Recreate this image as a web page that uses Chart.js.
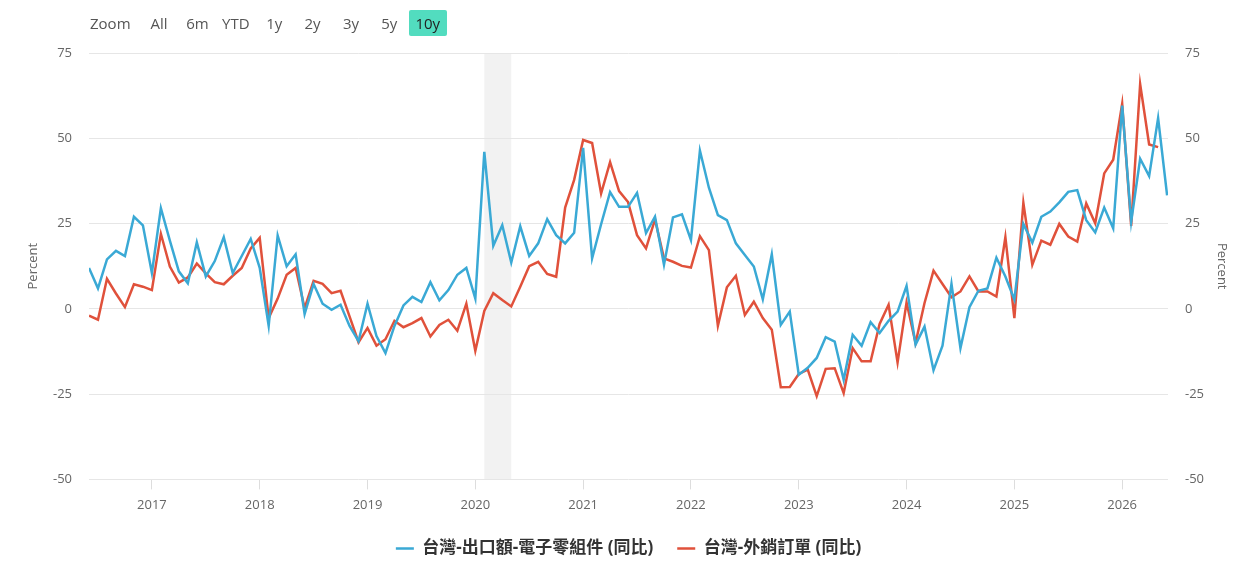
<!DOCTYPE html>
<html>
<head>
<meta charset="utf-8">
<title>台灣 出口額 電子零組件 vs 外銷訂單</title>
<script src="https://cdn.jsdelivr.net/npm/chart.js@4.4.1/dist/chart.umd.min.js"></script>
<style>
  html, body { margin: 0; padding: 0; background: #fff; }
  #wrap { position: relative; width: 1257px; height: 584px; overflow: hidden; }
  #chart { position: absolute; left: 0; top: 0; }
  .ranges {
    position: absolute; left: 90px; top: 10px; height: 26px;
    display: flex; align-items: center;
    font-family: 'Open Sans', sans-serif; font-size: 15px; color: #555;
  }
  .ranges .lbl { width: 50px; }
  .ranges .btn { width: 38px; margin-right: 0.4px; height: 26px; line-height: 26px; text-align: center; border-radius: 2px; }
  .ranges .btn.on { background: #52dcbf; color: #222; }
</style>
</head>
<body>
<div id="wrap">
  <canvas id="chart" width="1257" height="584"></canvas>
  <div class="ranges">
    <span class="lbl">Zoom</span>
    <span class="btn">All</span>
    <span class="btn">6m</span>
    <span class="btn">YTD</span>
    <span class="btn">1y</span>
    <span class="btn">2y</span>
    <span class="btn">3y</span>
    <span class="btn">5y</span>
    <span class="btn on">10y</span>
  </div>
</div>
<script>
// Monthly observations, Jun 2016 .. Jun 2026
const months = [
    '2016-06', '2016-07', '2016-08', '2016-09', '2016-10', '2016-11', '2016-12',
    '2017-01', '2017-02', '2017-03', '2017-04', '2017-05', '2017-06', '2017-07', '2017-08', '2017-09', '2017-10', '2017-11', '2017-12',
    '2018-01', '2018-02', '2018-03', '2018-04', '2018-05', '2018-06', '2018-07', '2018-08', '2018-09', '2018-10', '2018-11', '2018-12',
    '2019-01', '2019-02', '2019-03', '2019-04', '2019-05', '2019-06', '2019-07', '2019-08', '2019-09', '2019-10', '2019-11', '2019-12',
    '2020-01', '2020-02', '2020-03', '2020-04', '2020-05', '2020-06', '2020-07', '2020-08', '2020-09', '2020-10', '2020-11', '2020-12',
    '2021-01', '2021-02', '2021-03', '2021-04', '2021-05', '2021-06', '2021-07', '2021-08', '2021-09', '2021-10', '2021-11', '2021-12',
    '2022-01', '2022-02', '2022-03', '2022-04', '2022-05', '2022-06', '2022-07', '2022-08', '2022-09', '2022-10', '2022-11', '2022-12',
    '2023-01', '2023-02', '2023-03', '2023-04', '2023-05', '2023-06', '2023-07', '2023-08', '2023-09', '2023-10', '2023-11', '2023-12',
    '2024-01', '2024-02', '2024-03', '2024-04', '2024-05', '2024-06', '2024-07', '2024-08', '2024-09', '2024-10', '2024-11', '2024-12',
    '2025-01', '2025-02', '2025-03', '2025-04', '2025-05', '2025-06', '2025-07', '2025-08', '2025-09', '2025-10', '2025-11', '2025-12',
    '2026-01', '2026-02', '2026-03', '2026-04', '2026-05', '2026-06'
];

// 台灣-出口額-電子零組件 (同比), %
const exportsYoY = [
    12, 6, 14.5, 17, 15.5, 27, 24.5,
    10.5, 29.5, 20, 11, 7.5, 19.5, 9.5, 14, 21, 10.5, 15.5, 20.5,
    12, -5, 21.5, 12.5, 16, -1.5, 7.3, 1.5, -0.3, 1.2, -5, -9.5,
    1.5, -8, -13, -5, 1, 3.5, 2, 7.8, 2.5, 5.5, 10, 12,
    3, 46, 18.5, 24.5, 13.6, 24.2, 15.5, 19.2, 26.3, 21.6, 19.2, 22.3,
    47.2, 14.8, 24.8, 34.2, 29.9, 29.9, 34, 22.2, 27, 12.9, 26.8, 27.7,
    20.2, 46.4, 35.5, 27.5, 26, 19.2, 15.8, 12.4, 2.8, 16, -4.7, -0.8,
    -19.3, -17.3, -14.4, -8.3, -9.6, -20.8, -7.6, -10.8, -3.9, -7.1, -3.5, -0.8,
    6.7, -10.5, -5.2, -18, -10.8, 7.3, -11.5, 0.5, 5.3, 6, 15, 9.5,
    2.7, 24.9, 19.4, 27, 28.5, 31.2, 34.3, 34.8, 26, 22.4, 29.7, 23.6,
    59.6, 25.5, 44, 38.9, 55.9, 33.3
];

// 台灣-外銷訂單 (同比), % (one month shorter)
const ordersYoY = [
    -2, -3.2, 8.8, 4.5, 0.5, 7.2, 6.5,
    5.5, 22, 12.4, 7.7, 9.2, 13.3, 10.4, 7.8, 7.2, 9.7, 12, 17.7,
    20.8, -2.7, 3, 10, 12, 0.2, 8.2, 7.3, 4.6, 5.3, -2.2, -9.8,
    -5.6, -10.8, -8.9, -3.5, -5.4, -4.2, -2.7, -8.1, -4.7, -3.2, -6.4, 1.5,
    -12.3, -0.6, 4.6, 2.6, 0.7, 6.5, 12.5, 13.8, 10.2, 9.4, 29.7, 37.8,
    49.5, 48.6, 33.8, 43, 34.5, 31.3, 21.6, 17.7, 26.2, 14.8, 13.8, 12.6,
    12.1, 21.3, 17.2, -5, 6.3, 9.7, -1.8, 2.1, -2.7, -6.1, -23, -22.9,
    -19.1, -17.8, -25.6, -17.6, -17.4, -24.7, -11.5, -15.4, -15.4, -4.4, 1.2, -15.7,
    1.9, -10, 1.7, 11.2, 7.3, 3.4, 5.1, 9.5, 5.1, 5.1, 3.6, 21,
    -2.7, 31.1, 12.9, 20, 18.8, 24.9, 21.2, 19.7, 30.9, 25.1, 39.7, 43.7,
    60.1, 24.3, 65.9, 48.2, 47.4
];

const seriesNames = ['台灣-出口額-電子零組件 (同比)', '台灣-外銷訂單 (同比)'];
const yearTicks = [2017, 2018, 2019, 2020, 2021, 2022, 2023, 2024, 2025, 2026];
const percentTicks = [-50, -25, 0, 25, 50, 75];
const recession = ['2020-02', '2020-05'];   // shaded band, start / end month

const BLUE = '#3aa9d5';
const RED = '#e0513b';
const FONT = "'Open Sans', 'Noto Sans CJK TC', sans-serif";

// 'YYYY-MM' -> fractional year for the linear x scale
function monthToX(m) {
    const [y, mo] = m.split('-').map(Number);
    return y + (mo - 1) / 12;
}

function toPoints(labels, values) {
    return values.map((v, i) => ({ x: monthToX(labels[i]), y: v }));
}

// Grey band behind everything
const bandPlugin = {
    id: 'band',
    beforeDraw(chart) {
        const { ctx, chartArea, scales } = chart;
        const x0 = scales.x.getPixelForValue(monthToX(recession[0]));
        const x1 = scales.x.getPixelForValue(monthToX(recession[1]));
        ctx.save();
        ctx.fillStyle = '#f2f2f2';
        ctx.fillRect(x0, chartArea.top, x1 - x0, chartArea.bottom - chartArea.top);
        ctx.restore();
    }
};

Chart.defaults.font.family = FONT;

const percentAxis = (position) => ({
    position: position,
    min: -50,
    max: 75,
    afterBuildTicks: (scale) => { scale.ticks = percentTicks.map(v => ({ value: v })); },
    afterFit: (scale) => { scale.width = 89; },
    ticks: { padding: 17, color: '#666', font: { size: 13 } },
    grid: { display: position === 'left', color: '#e6e6e6', drawTicks: false },
    border: { display: false },
    title: { display: true, text: 'Percent', color: '#666', font: { size: 13 }, padding: { top: position === 'left' ? 25 : 27 } }
});

const ctx = document.getElementById('chart').getContext('2d');
const chart = new Chart(ctx, {
    type: 'line',
    data: {
        datasets: [{
            label: seriesNames[0],
            data: toPoints(months, exportsYoY),
            borderColor: BLUE,
            backgroundColor: BLUE,
            borderWidth: 2.5,
            pointRadius: 0,
            tension: 0
        }, {
            label: seriesNames[1],
            data: toPoints(months, ordersYoY),
            borderColor: RED,
            backgroundColor: RED,
            borderWidth: 2.5,
            pointRadius: 0,
            tension: 0
        }]
    },
    options: {
        responsive: false,
        animation: false,
        layout: { padding: { top: 53, bottom: 17 } },
        plugins: {
            legend: {
                position: 'bottom',
                labels: {
                    usePointStyle: true,
                    pointStyle: 'line',
                    pointStyleWidth: 18,
                    padding: 24,
                    color: '#333',
                    font: { size: 17, weight: 'bold' }
                }
            },
            tooltip: { enabled: false }
        },
        scales: {
            x: {
                type: 'linear',
                min: monthToX(months[0]),
                max: 2026.425,
                afterBuildTicks: (scale) => { scale.ticks = yearTicks.map(v => ({ value: v })); },
                afterFit: (scale) => { scale.height = scale.height - 5; },
                ticks: {
                    callback: (v) => String(v),
                    color: '#666',
                    font: { size: 13 },
                    padding: 8,
                    maxRotation: 0,
                    autoSkip: false
                },
                grid: { drawOnChartArea: false, drawTicks: true, tickLength: 10, color: '#dddddd' },
                border: { display: false }
            },
            y: percentAxis('left'),
            y2: percentAxis('right')
        }
    },
    plugins: [bandPlugin]
});
</script>
</body>
</html>
